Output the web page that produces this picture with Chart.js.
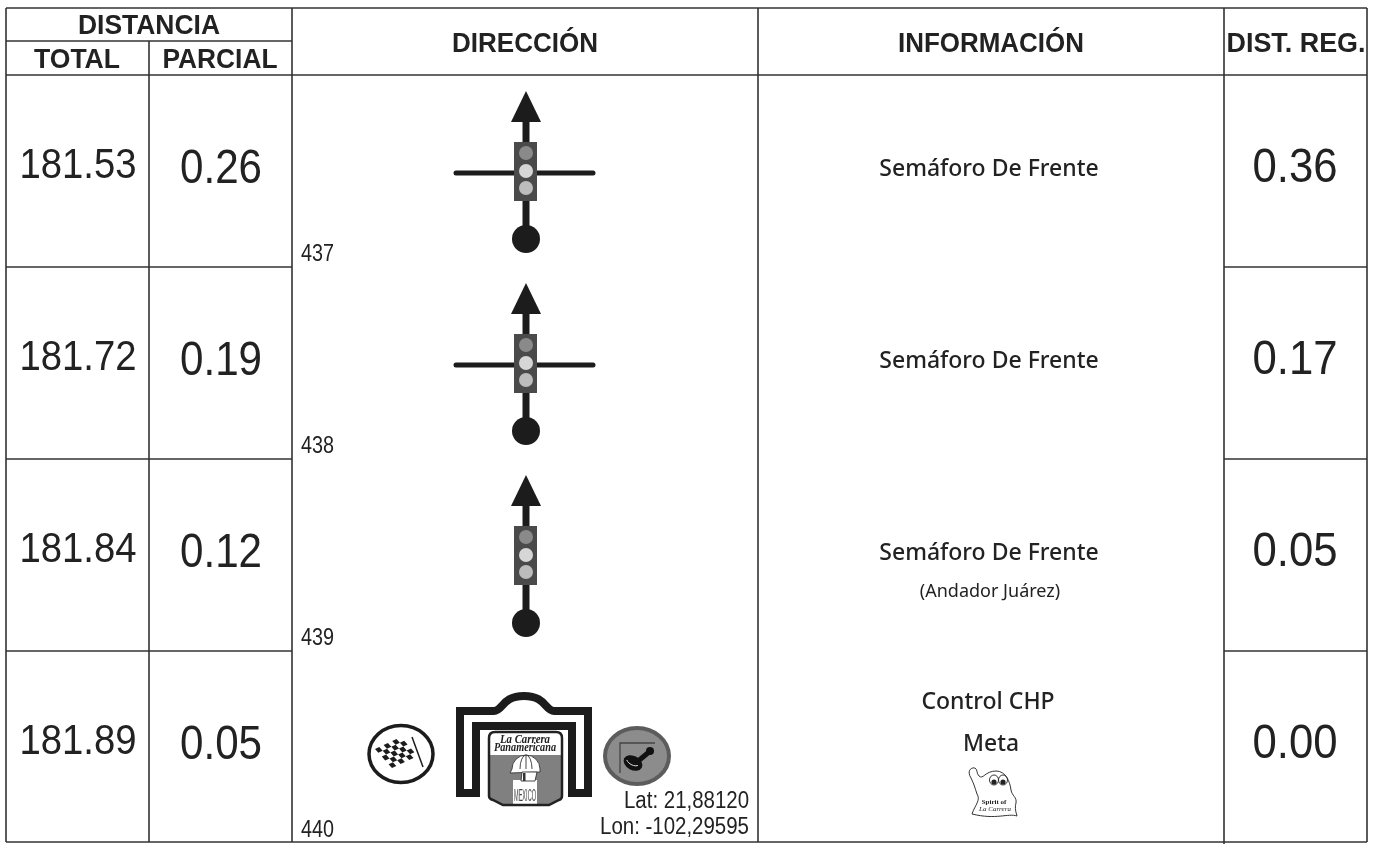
<!DOCTYPE html>
<html>
<head>
<meta charset="utf-8">
<title>Libro de ruta</title>
<script src="https://cdn.jsdelivr.net/npm/chart.js@4"></script>
<style>
  html, body { margin: 0; padding: 0; background: #fff; }
  canvas { display: block; }
</style>
</head>
<body>
<canvas id="myChart" width="1380" height="844"></canvas>
<script>
// values
const totales = [181.53, 181.72, 181.84, 181.89];
const parciales = [0.26, 0.19, 0.12, 0.05];
const distReg = [0.36, 0.17, 0.05, 0.00];
const numeros = ['437', '438', '439', '440'];
const informacion = ['Semáforo De Frente', 'Semáforo De Frente', 'Semáforo De Frente', 'Control CHP'];
const notas = ['', '', '(Andador Juárez)', 'Meta'];
const cruce = [true, true, false];
const coordenadas = ['Lat: 21,88120', 'Lon: -102,29595'];

// table layout: x in page units, y in rows
const colEdges = [6, 149, 292, 758, 1224, 1367];
const rowEdges = [0, 1, 2, 3, 4];
const ROW = 192, TOP = 75;
const INK = '#222';
const SANS = '"Liberation Sans", Arial, sans-serif';

function seg(x1, y1, x2, y2) {
    return {
        type: 'scatter', showLine: true, pointRadius: 0,
        borderColor: '#333', borderWidth: 1.6,
        data: [{ x: x1, y: y1 }, { x: x2, y: y2 }]
    };
}

const headTop = -67 / ROW, headMid = -34 / ROW, bottom = 767 / ROW;
const lineas = [
    seg(colEdges[0], headTop, colEdges[5], headTop),
    seg(colEdges[0], headMid, colEdges[2], headMid),
    seg(colEdges[1], headMid, colEdges[1], bottom),
    seg(colEdges[0], headTop, colEdges[0], bottom),
    seg(colEdges[2], headTop, colEdges[2], bottom),
    seg(colEdges[3], headTop, colEdges[3], bottom),
    seg(colEdges[4], headTop, colEdges[4], 769 / ROW),
    seg(colEdges[5], headTop, colEdges[5], bottom),
];
rowEdges.forEach(r => {
    if (r === 0 || r === 4) {
        lineas.push(seg(colEdges[0], r === 4 ? bottom : r, colEdges[5], r === 4 ? bottom : r));
    } else {
        lineas.push(seg(colEdges[0], r, colEdges[2], r));
        lineas.push(seg(colEdges[4], r, colEdges[5], r));
    }
});

function text(ctx, s, x, y, font, maxW, align, color) {
    ctx.font = font;
    ctx.textAlign = align || 'center';
    ctx.textBaseline = 'alphabetic';
    ctx.fillStyle = color || INK;
    if (maxW) ctx.fillText(s, x, y, maxW); else ctx.fillText(s, x, y);
}

// signal drawn relative to the top of its row
function semaforo(ctx, x, top, conCruce) {
    ctx.save();
    ctx.translate(x, top);
    ctx.strokeStyle = '#1c1c1c';
    ctx.fillStyle = '#1c1c1c';
    ctx.lineWidth = 7;
    ctx.beginPath(); ctx.moveTo(0, 40); ctx.lineTo(0, 160); ctx.stroke();
    ctx.beginPath(); ctx.moveTo(0, 16); ctx.lineTo(15, 47); ctx.lineTo(-15, 47); ctx.closePath(); ctx.fill();
    ctx.beginPath(); ctx.arc(0, 164, 14, 0, Math.PI * 2); ctx.fill();
    if (conCruce) {
        ctx.lineWidth = 5;
        ctx.lineCap = 'round';
        ctx.beginPath(); ctx.moveTo(-70, 98); ctx.lineTo(67, 98); ctx.stroke();
    }
    ctx.fillStyle = '#4a4a4a';
    ctx.fillRect(-12, 67, 23, 59);
    [[78, '#8a8a8a'], [96, '#d6d6d6'], [113, '#bcbcbc']].forEach(l => {
        ctx.fillStyle = l[1];
        ctx.beginPath(); ctx.arc(0, l[0], 7, 0, Math.PI * 2); ctx.fill();
    });
    ctx.restore();
}

function bandera(ctx) {
    ctx.save();
    ctx.lineWidth = 3.5;
    ctx.strokeStyle = '#1c1c1c';
    ctx.fillStyle = '#fff';
    ctx.beginPath(); ctx.ellipse(401, 754, 32, 28.5, 0, 0, Math.PI * 2); ctx.fill(); ctx.stroke();
    ctx.lineWidth = 1.5;
    ctx.beginPath(); ctx.moveTo(412, 737); ctx.lineTo(423, 767); ctx.stroke();
    ctx.save();
    ctx.transform(4.3, -2, 3.4, 3.8, 375, 749);
    ctx.fillStyle = '#1c1c1c';
    for (let i = 0; i < 6; i++) {
        for (let j = 0; j < 5; j++) {
            if ((i + j) % 2 === 0) ctx.fillRect(i, j, 1, 1);
        }
    }
    ctx.restore();
    ctx.restore();
}

function palanca(ctx) {
    ctx.save();
    ctx.fillStyle = '#8c8c8c';
    ctx.strokeStyle = '#5c5c5c';
    ctx.lineWidth = 4;
    ctx.beginPath(); ctx.ellipse(637, 756, 32, 28, 0, 0, Math.PI * 2); ctx.fill(); ctx.stroke();
    ctx.strokeStyle = '#444';
    ctx.lineWidth = 1.3;
    ctx.beginPath(); ctx.moveTo(655, 743); ctx.lineTo(620, 743); ctx.lineTo(620, 773); ctx.stroke();
    ctx.strokeStyle = '#111';
    ctx.fillStyle = '#111';
    ctx.lineWidth = 5;
    ctx.beginPath(); ctx.moveTo(649, 752); ctx.lineTo(637, 762); ctx.stroke();
    ctx.beginPath(); ctx.arc(650, 751, 4, 0, Math.PI * 2); ctx.fill();
    ctx.beginPath(); ctx.ellipse(633, 763, 10, 7, 0.5, 0, Math.PI * 2); ctx.fill();
    ctx.strokeStyle = '#ddd';
    ctx.lineWidth = 1;
    ctx.beginPath(); ctx.ellipse(633, 761, 7, 4, 0.5, 0.4, 2.6); ctx.stroke();
    ctx.restore();
}

function escudo(ctx) {
    ctx.beginPath();
    ctx.moveTo(495, 732); ctx.lineTo(556, 732);
    ctx.quadraticCurveTo(562, 732, 562, 738);
    ctx.lineTo(562, 796); ctx.quadraticCurveTo(562, 799, 559, 800);
    ctx.lineTo(549, 805); ctx.lineTo(503, 805); ctx.lineTo(493, 800);
    ctx.quadraticCurveTo(489, 799, 489, 796);
    ctx.lineTo(489, 738);
    ctx.quadraticCurveTo(489, 732, 495, 732);
    ctx.closePath();
}

function arco(ctx) {
    ctx.save();
    ctx.strokeStyle = '#1c1c1c';
    ctx.lineJoin = 'miter';
    ctx.lineWidth = 8;
    // gate outline with the dome on top
    ctx.beginPath();
    ctx.moveTo(460, 793);
    ctx.lineTo(460, 711);
    ctx.lineTo(494, 711);
    ctx.bezierCurveTo(503, 711, 502, 696, 524, 696);
    ctx.bezierCurveTo(546, 696, 545, 711, 554, 711);
    ctx.lineTo(588, 711);
    ctx.lineTo(588, 793);
    ctx.lineTo(572, 793);
    ctx.lineTo(572, 726);
    ctx.lineTo(476, 726);
    ctx.lineTo(476, 793);
    ctx.closePath();
    ctx.stroke();

    // crest
    ctx.save();
    escudo(ctx);
    ctx.clip();
    ctx.fillStyle = '#fff';
    ctx.fillRect(489, 732, 73, 24);
    ctx.fillStyle = '#808080';
    ctx.fillRect(489, 755, 73, 50);
    ctx.fillStyle = '#fff';
    ctx.fillRect(513, 780, 24, 25);
    ctx.restore();
    ctx.lineWidth = 2.5;
    ctx.strokeStyle = '#222';
    escudo(ctx);
    ctx.stroke();

    // helmet
    ctx.fillStyle = '#fff';
    ctx.strokeStyle = '#333';
    ctx.lineWidth = 0.9;
    ctx.beginPath(); ctx.arc(526, 769, 14, Math.PI, 0); ctx.lineTo(540, 772); ctx.lineTo(510, 773); ctx.closePath(); ctx.fill(); ctx.stroke();
    ctx.beginPath(); ctx.ellipse(526, 769, 6, 14, 0, Math.PI, 0); ctx.stroke();
    ctx.beginPath(); ctx.moveTo(526, 755); ctx.lineTo(526, 769); ctx.stroke();
    ctx.beginPath(); ctx.moveTo(522, 772); ctx.lineTo(521, 781); ctx.lineTo(535, 781); ctx.lineTo(537, 772); ctx.closePath(); ctx.fill(); ctx.stroke();
    ctx.fillStyle = '#333';
    ctx.fillRect(523, 773, 2.5, 8);

    text(ctx, 'La Carrera', 525, 743, 'italic bold 12px "Liberation Serif", serif', 50);
    text(ctx, 'Panamericana', 525, 751, 'italic bold 12px "Liberation Serif", serif', 62);
    text(ctx, 'MEXICO', 525, 801, '17px ' + SANS, 22, 'center', '#444');
    ctx.restore();
}

function fantasma(ctx) {
    ctx.save();
    ctx.strokeStyle = '#333';
    ctx.lineWidth = 1;
    ctx.beginPath();
    ctx.moveTo(971, 778);
    ctx.bezierCurveTo(967, 772, 970, 767, 975, 768);
    ctx.bezierCurveTo(978, 770, 976, 773, 979, 776);
    ctx.bezierCurveTo(983, 780, 985, 771, 996, 771);
    ctx.bezierCurveTo(1006, 771, 1010, 782, 1011, 790);
    ctx.bezierCurveTo(1012, 796, 1017, 797, 1016, 803);
    ctx.bezierCurveTo(1015, 806, 1015, 810, 1017, 816);
    ctx.bezierCurveTo(1008, 813, 996, 820, 972, 814);
    ctx.bezierCurveTo(975, 805, 981, 800, 977, 794);
    ctx.bezierCurveTo(975, 788, 974, 784, 971, 778);
    ctx.stroke();
    ctx.beginPath(); ctx.ellipse(994, 780, 4.5, 5, 0, 0, Math.PI * 2); ctx.stroke();
    ctx.beginPath(); ctx.ellipse(1003, 780, 4.5, 5, 0, 0, Math.PI * 2); ctx.stroke();
    ctx.fillStyle = '#222';
    ctx.beginPath(); ctx.arc(994, 782, 2.6, 0, Math.PI * 2); ctx.fill();
    ctx.beginPath(); ctx.arc(1003, 782, 2.6, 0, Math.PI * 2); ctx.fill();
    text(ctx, 'Spirit of', 994, 804, 'bold 7px "Liberation Serif", serif', 32);
    text(ctx, 'La Carrera', 995, 811, 'italic 7px "Liberation Serif", serif', 36);
    ctx.restore();
}

const tablaPlugin = {
    id: 'tabla',
    afterDatasetsDraw(chart) {
        const ctx = chart.ctx;
        const xs = chart.scales.x, ys = chart.scales.y;
        const px = v => xs.getPixelForValue(v);
        const rowTop = r => ys.getPixelForValue(r);
        const head = 'bold 27px ' + SANS;

        text(ctx, 'DISTANCIA', px(149), 34, head, 142);
        text(ctx, 'TOTAL', px(77), 68, head, 86);
        text(ctx, 'PARCIAL', px(220), 68, head, 115);
        text(ctx, 'DIRECCIÓN', px(525), 52, head, 146);
        text(ctx, 'INFORMACIÓN', px(991), 52, head, 186);
        text(ctx, 'DIST. REG.', px(1296), 52, head, 139);

        totales.forEach((v, r) => {
            const t = rowTop(r);
            text(ctx, v.toFixed(2), px(78), t + 103, '42px ' + SANS, 117);
            text(ctx, parciales[r].toFixed(2), px(221), t + 108, '48px ' + SANS, 82);
            text(ctx, distReg[r].toFixed(2), px(1295), t + 107, '48px ' + SANS, 85);
            text(ctx, numeros[r], px(301), t + 186, '23px ' + SANS, 33, 'left');
        });

        const info = '500 23px "Noto Sans", sans-serif';
        informacion.forEach((s, r) => {
            const t = rowTop(r);
            if (r < 3) {
                text(ctx, s, px(989), t + 101, info, 220);
            } else {
                text(ctx, s, px(988), t + 58, info, 136);
                text(ctx, notas[r], px(991), t + 100, info, 56);
            }
        });
        text(ctx, notas[2], px(990), rowTop(2) + 138, '18px "Noto Sans", sans-serif', 142);

        cruce.forEach((c, r) => semaforo(ctx, px(526), rowTop(r), c));
        bandera(ctx);
        arco(ctx);
        palanca(ctx);
        fantasma(ctx);

        text(ctx, coordenadas[0], px(749), 808, '23px ' + SANS, 125, 'right');
        text(ctx, coordenadas[1], px(749), 834, '23px ' + SANS, 149, 'right');
    }
};

new Chart(document.getElementById('myChart'), {
    type: 'scatter',
    data: { datasets: lineas },
    options: {
        responsive: false,
        animation: false,
        layout: { padding: 0 },
        plugins: { legend: { display: false }, tooltip: { enabled: false } },
        scales: {
            x: { type: 'linear', display: false, min: 0, max: 1380 },
            y: { type: 'linear', display: false, reverse: true, min: -TOP / ROW, max: (844 - TOP) / ROW }
        }
    },
    plugins: [tablaPlugin]
});
</script>
</body>
</html>
